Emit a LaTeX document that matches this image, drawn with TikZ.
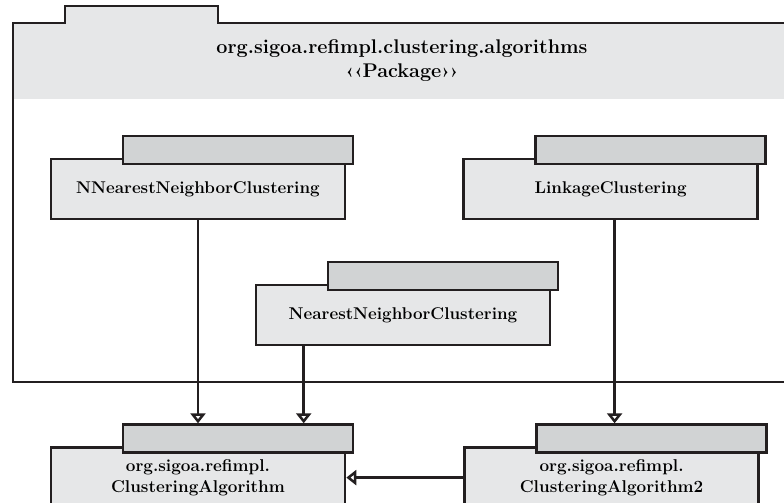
\documentclass[tikz,border=0pt]{standalone}
\usepackage{tikz}
\usetikzlibrary{arrows.meta,positioning}

\definecolor{umlline}{HTML}{231F20}
\definecolor{umlbox}{HTML}{E6E7E8}
\definecolor{umltab}{HTML}{D1D3D4}

\tikzset{
  cls/.style={draw=umlline, fill=umlbox, line width=2.6pt, minimum width=294pt,
    minimum height=60pt, inner sep=0pt, align=center,
    font=\fontsize{17}{21}\selectfont\bfseries},
  extcls/.style={cls, font=\fontsize{17.1}{21}\selectfont\bfseries},
  clstab/.style={draw=umlline, fill=umltab, line width=2.6pt, minimum width=230pt,
    minimum height=28pt, inner sep=0pt, anchor=north east},
  gen/.style={draw=umlline, line width=2.6pt, -{Triangle[open, length=10pt, width=15pt]}},
}

\begin{document}
\begin{tikzpicture}[x=1pt, y=-1pt]
    \useasboundingbox (0,0) rectangle (784,503);
    \clip (0,0) rectangle (784,503);

    % package frame and its tab
    \fill[umlbox] (13,23) rectangle (800,99);
    \fill[umlbox] (65,6) rectangle (218,23);
    \draw[umlline, line width=2.6pt] (800,23) -- (218,23) -- (218,6) -- (65,6)
        -- (65,23) -- (13,23) -- (13,382) -- (800,382);
    \node[align=center, font=\fontsize{19.8}{24}\selectfont\bfseries] (pkg_title) at (402,61)
        {org.sigoa.refimpl.clustering.algorithms\\‹‹Package››};

    % classes of the package
    \node[cls] (nnn) at (198,189) {NNearestNeighborClustering};
    \node[cls, right=116pt of nnn] (linkage) {LinkageClustering};
    \node[cls] (nn) at (403,315) {NearestNeighborClustering};

    % base classes
    \node[extcls, below=226pt of nnn] (ca) {org.sigoa.refimpl.\\ClusteringAlgorithm};
    \node[extcls, right=117pt of ca] (ca2) {org.sigoa.refimpl.\\ClusteringAlgorithm2};

    % name tabs
    \foreach \cname in {nnn,linkage,nn,ca,ca2}
        \node[clstab] (\cname_tab) at ([shift={(8pt,23pt)}]\cname.north east) {};

    % generalizations
    \coordinate (nn_out) at ([xshift=49pt]nn.south west);
    \coordinate (linkage_out) at ([xshift=4pt]linkage.south);
    \draw[gen] (nnn.south) -- (nnn.south |- ca_tab.north);
    \draw[gen] (nn_out) -- (nn_out |- ca_tab.north);
    \draw[gen] (linkage_out) -- (linkage_out |- ca2_tab.north);
    \draw[gen] (ca2.west) -- (ca.east);

\end{tikzpicture}
\end{document}
